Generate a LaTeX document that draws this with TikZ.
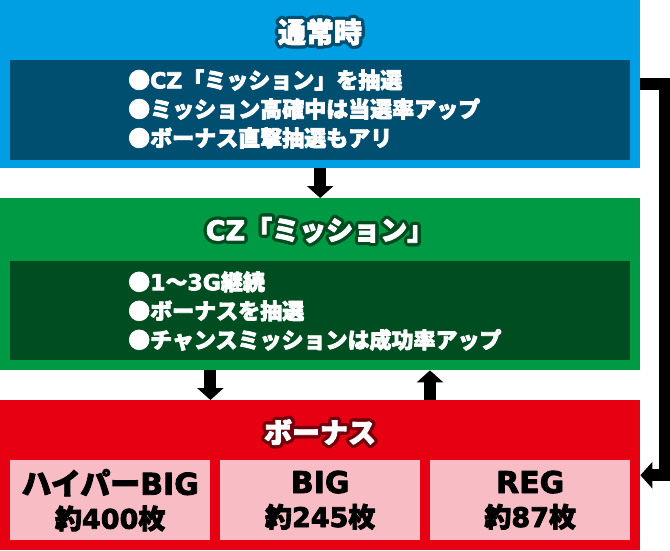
\documentclass[tikz,border=0pt]{standalone}
\usepackage{fontspec}
\setmainfont{Noto Sans CJK JP}
\newfontfamily\latin{DejaVu Sans}
% stroked glyphs: width, stroke colour (pdf operators)
\newcommand{\heavy}[2]{\special{pdf:literal direct 2 Tr #1 w 1 j #2}}
\usetikzlibrary{arrows.meta,calc}

\definecolor{normalblue}{RGB}{0,159,227}
\definecolor{normalnavy}{RGB}{0,78,112}
\definecolor{czgreen}{RGB}{0,153,68}
\definecolor{czdark}{RGB}{0,77,34}
\definecolor{bonusred}{RGB}{230,0,18}
\definecolor{bonusdark}{RGB}{115,0,12}
\definecolor{prizepink}{RGB}{248,188,196}

\tikzset{
  outerbox/.style={fill=#1, minimum width=640pt, inner sep=0pt, anchor=north west},
  innerbox/.style={fill=#1, minimum width=620pt, inner sep=0pt, anchor=north west},
  prizebox/.style={fill=prizepink, minimum width=200pt, minimum height=80pt, inner sep=0pt,
    anchor=north west, align=center, text=black, font=\fontsize{27}{34}\selectfont\bfseries},
  headline/.style={text=white, inner sep=0pt, font=\fontsize{28}{28}\selectfont\bfseries},
  notes/.style={text=white, align=left, anchor=west, inner sep=0pt,
    font=\fontsize{22}{29}\selectfont\bfseries},
  flow/.style={line width=12pt, -{Triangle[width=26pt,length=12pt]}}
}

\newcommand{\halotext}[5]{%
  \foreach \a in {0,30,...,330}
    \node[headline,text=#3] at ($(#2)+(\a:3)$) {\heavy{1.5}{#4 RG}#5};
  \node[headline] (#1) at (#2) {\heavy{0.8}{1 G}#5};}

\begin{document}
\begin{tikzpicture}[x=1pt,y=-1pt]
\useasboundingbox (0,0) rectangle (670,550);

% normal play
\node[outerbox=normalblue, minimum height=168pt] (normal) at (0,0) {};
\node[innerbox=normalnavy, minimum height=100pt] (normalin) at (10,60) {};
\halotext{normaltitle}{320,32}{normalnavy}{0 0.31 0.44}{通常時}
\node[notes] (normalnotes) at (128,109) {\heavy{0.7}{1 G}●{\latin CZ}「ミッション」を抽選\\●ミッション高確中は当選率アップ\\●ボーナス直撃抽選もアリ};

% CZ
\node[outerbox=czgreen, minimum height=172pt] (cz) at (0,198) {};
\node[innerbox=czdark, minimum height=99pt] (czin) at (10,261) {};
\halotext{cztitle}{320,230}{czdark}{0 0.3 0.13}{\fontsize{27}{27}\selectfont{\latin CZ}「ミッション」}
\node[notes] (cznotes) at (128,311) {\heavy{0.7}{1 G}●{\latin 1}〜{\latin 3G}継続\\●ボーナスを抽選\\●チャンスミッションは成功率アップ};

% bonus
\node[outerbox=bonusred, minimum height=150pt] (bonus) at (0,400) {};
\halotext{bonustitle}{320,432}{bonusdark}{0.45 0 0.05}{ボーナス}
\node[prizebox] (hyper) at (10,460) {\heavy{0.8}{0 G}{\fontsize{30}{34}\selectfont ハイパー{\latin BIG}}\\約{\latin 400}枚};
\node[prizebox] (big) at (220,460) {\heavy{0.8}{0 G}{\fontsize{30}{34}\selectfont\latin BIG}\\約{\latin 245}枚};
\node[prizebox] (reg) at (430,460) {\heavy{0.8}{0 G}{\fontsize{30}{34}\selectfont\latin REG}\\約{\latin 87}枚};

\draw[flow] (normal.south) -- (cz.north);
\draw[flow] (cz.south -| hyper.east) -- (bonus.north -| hyper.east);
\draw[flow] (bonus.north -| reg.west) -- (cz.south -| reg.west);
\draw[flow] (normal.east) -- ++(25,0) |- (bonus.east);
\end{tikzpicture}
\end{document}
